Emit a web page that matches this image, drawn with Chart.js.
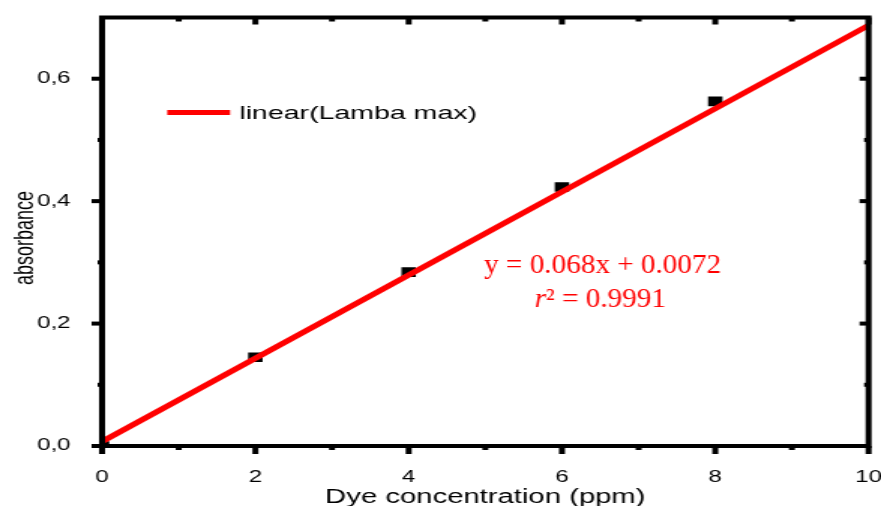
<!DOCTYPE html>
<html>
<head>
<meta charset="utf-8">
<script src="https://cdn.jsdelivr.net/npm/chart.js@4.4.1/dist/chart.umd.min.js"></script>
<style>
  html, body { margin: 0; padding: 0; background: #fff; overflow: hidden; }
  /* the original figure is stretched ~1.5x horizontally, so draw narrow and stretch */
  #chart { display: block; transform: scaleX(1.5009); transform-origin: 0 0; }
</style>
</head>
<body>
<canvas id="chart" width="587" height="506"></canvas>
<script>
// measured points (Dye concentration in ppm vs absorbance)
const X_VALUES   = [0, 2, 4, 6, 8];
const ABSORBANCE = [0.0, 0.145, 0.284, 0.423, 0.563];

// fitted line end points: y = 0.068x + 0.0072
const FIT_X = [0, 10];
const FIT_Y = [0.0072, 0.6872];

const X_TICKS = [0, 2, 4, 6, 8, 10];
const X_MINOR = [1, 3, 5, 7, 9];
const Y_TICKS = [0, 0.2, 0.4, 0.6];
const Y_MINOR = [0.1, 0.3, 0.5];

const RED  = '#ff0000';
const SANS = '"Liberation Sans", Arial, sans-serif';
const SERIF = '"Liberation Serif", "Times New Roman", serif';

// frame, mirrored ticks, y title, legend and equation (Origin style)
const framePlugin = {
  id: 'frame',
  afterDatasetsDraw(chart) {
    const { ctx, chartArea: a, scales: { x, y } } = chart;
    ctx.save();
    ctx.strokeStyle = '#000';
    ctx.lineWidth = 4;
    ctx.lineCap = 'square';
    ctx.strokeRect(a.left, a.top, a.right - a.left, a.bottom - a.top);

    const tick = (x1, y1, x2, y2) => {
      ctx.beginPath(); ctx.moveTo(x1, y1); ctx.lineTo(x2, y2); ctx.stroke();
    };
    ctx.lineCap = 'butt';
    X_TICKS.forEach(v => {
      const px = x.getPixelForValue(v);
      tick(px, a.bottom, px, a.bottom + 8);
      tick(px, a.top, px, a.top + 7);
    });
    X_MINOR.forEach(v => {
      const px = x.getPixelForValue(v);
      tick(px, a.bottom, px, a.bottom + 4);
      tick(px, a.top, px, a.top + 4);
    });
    Y_TICKS.forEach(v => {
      const py = y.getPixelForValue(v);
      tick(a.left, py, a.left - 7, py);
      tick(a.right, py, a.right - 6, py);
    });
    Y_MINOR.forEach(v => {
      const py = y.getPixelForValue(v);
      tick(a.left, py, a.left - 3, py);
      tick(a.right, py, a.right - 3, py);
    });

    // y axis title
    ctx.save();
    ctx.translate(17.5, 238);
    ctx.rotate(-Math.PI / 2);
    ctx.fillStyle = '#000';
    ctx.font = '18px ' + SANS;
    ctx.textAlign = 'center';
    ctx.textBaseline = 'middle';
    ctx.fillText('absorbance', 0, 0);
    ctx.restore();

    // legend
    const ly = y.getPixelForValue(0.545);
    ctx.strokeStyle = RED;
    ctx.lineWidth = 5;
    tick(x.getPixelForValue(0.85), ly, x.getPixelForValue(1.67), ly);
    ctx.fillStyle = '#000';
    ctx.font = '19px ' + SANS;
    ctx.textBaseline = 'middle';
    ctx.textAlign = 'left';
    ctx.fillText('linear(Lamba max)', x.getPixelForValue(1.79), ly + 1.5);

    // regression equation
    ctx.fillStyle = RED;
    ctx.textBaseline = 'alphabetic';
    const sx = 0.72;
    ctx.save();
    ctx.translate(x.getPixelForValue(6.53), y.getPixelForValue(0.283));
    ctx.scale(sx, 1);
    ctx.font = '27px ' + SERIF;
    ctx.textAlign = 'center';
    ctx.fillText('y = 0.068x + 0.0072', 0, 0);
    ctx.restore();

    ctx.save();
    ctx.translate(x.getPixelForValue(6.5), y.getPixelForValue(0.227));
    ctx.scale(sx, 1);
    ctx.textAlign = 'left';
    ctx.font = 'italic 27px ' + SERIF;
    const w1 = ctx.measureText('r').width;
    ctx.font = '27px ' + SERIF;
    const rest = '\u00b2 = 0.9991';
    const w2 = ctx.measureText(rest).width;
    const x0 = -(w1 + w2) / 2;
    ctx.font = 'italic 27px ' + SERIF;
    ctx.fillText('r', x0, 0);
    ctx.font = '27px ' + SERIF;
    ctx.fillText(rest, x0 + w1, 0);
    ctx.restore();

    ctx.restore();
  }
};

new Chart(document.getElementById('chart'), {
  type: 'scatter',
  data: {
    datasets: [
      {
        label: 'linear(Lamba max)',
        data: FIT_X.map((v, i) => ({ x: v, y: FIT_Y[i] })),
        showLine: true,
        borderColor: RED,
        borderWidth: 5,
        pointRadius: 0,
      },
      {
        label: 'absorbance',
        data: X_VALUES.map((v, i) => ({ x: v, y: ABSORBANCE[i] })),
        pointStyle: 'rect',
        pointRadius: 6.8,
        backgroundColor: '#000',
        borderWidth: 0,
      },
    ],
  },
  options: {
    responsive: false,
    animation: false,
    layout: { padding: { top: 17.5, right: 8.3, bottom: 0, left: 0 } },
    plugins: { legend: { display: false }, tooltip: { enabled: false } },
    scales: {
      x: {
        type: 'linear',
        min: 0,
        max: 10,
        afterBuildTicks: (s) => { s.ticks = X_TICKS.map(v => ({ value: v })); },
        afterFit: (s) => { s.height = 60; s.paddingRight = 0; s.paddingLeft = 0; },
        grid: { display: false },
        border: { display: false },
        ticks: { color: '#000', font: { family: SANS, size: 16 }, padding: 14, maxRotation: 0 },
        title: {
          display: true,
          text: 'Dye concentration (ppm)',
          color: '#000',
          font: { family: SANS, size: 19.5 },
          padding: { top: 0, bottom: -3 },
        },
      },
      y: {
        type: 'linear',
        min: 0,
        max: 0.7,
        afterBuildTicks: (s) => { s.ticks = Y_TICKS.map(v => ({ value: v })); },
        afterFit: (s) => { s.width = 68; s.paddingTop = 0; s.paddingBottom = 0; },
        grid: { display: false },
        border: { display: false },
        ticks: {
          color: '#000',
          font: { family: SANS, size: 16 },
          padding: 13,
          callback: (v) => v.toFixed(1).replace('.', ','),
        },
        title: { display: false },
      },
    },
  },
  plugins: [framePlugin],
});
</script>
</body>
</html>
